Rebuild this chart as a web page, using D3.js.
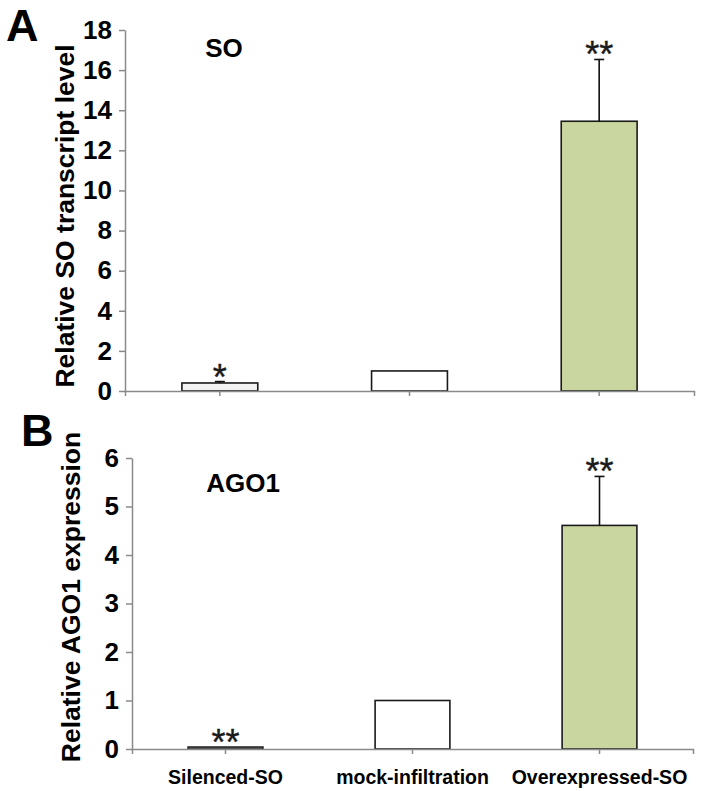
<!DOCTYPE html>
<html>
<head>
<meta charset="utf-8">
<script src="https://cdn.jsdelivr.net/npm/d3@7"></script>
<style>
  html, body { margin: 0; padding: 0; background: #fff; }
  svg { display: block; }
  text { font-family: "Liberation Sans", Arial, sans-serif; }
</style>
</head>
<body>
<svg id="chart" width="702" height="791"></svg>
<script>
// ---- data ----
const categories = ["Silenced-SO", "mock-infiltration", "Overexpressed-SO"];
const soValues = [0.40, 1.00, 13.45];
const soErrors = [0.07, 0, 3.08];
const soStars = ["*", "", "**"];
const soTicks = [0, 2, 4, 6, 8, 10, 12, 14, 16, 18];
const ago1Values = [0.04, 1.00, 4.61];
const ago1Errors = [0, 0, 1.01];
const ago1Stars = ["**", "", "**"];
const ago1Ticks = [0, 1, 2, 3, 4, 5, 6];
const barFills = ["#f2f2f2", "#ffffff", "#c9d69f"];

const svg = d3.select("#chart");

function panel(cfg) {
  const x = d3.scaleBand().domain(categories).range([cfg.x0, cfg.x1]).paddingInner(0.6).paddingOuter(0.3);
  const y = d3.scaleLinear().domain([0, cfg.max]).range([cfg.yb, cfg.yt]);
  const g = svg.append("g");

  // y axis
  const ya = g.append("g").attr("transform", `translate(${cfg.x0},0)`)
    .call(d3.axisLeft(y).tickValues(cfg.ticks).tickFormat(d3.format("d"))
      .tickSize(6).tickSizeOuter(0).tickPadding(7));
  ya.select(".domain").attr("stroke", "#8a8a8a").attr("stroke-width", 1.5);
  ya.selectAll(".tick line").attr("stroke", "#8a8a8a").attr("stroke-width", 1.5);
  ya.selectAll(".tick text").attr("font-size", 26).attr("font-weight", "bold")
    .attr("fill", "#000").attr("font-family", "Liberation Sans, Arial, sans-serif");

  // bars
  g.selectAll("rect.bar").data(cfg.values).enter().append("rect")
    .attr("x", (d, i) => x(categories[i]))
    .attr("width", x.bandwidth())
    .attr("y", d => y(d))
    .attr("height", d => y(0) - y(d))
    .attr("fill", (d, i) => barFills[i])
    .attr("stroke", "#1a1a1a").attr("stroke-width", 1.6);

  // error bars
  cfg.values.forEach((v, i) => {
    const e = cfg.errors[i];
    if (e <= 0) return;
    const cx = x(categories[i]) + x.bandwidth() / 2;
    g.append("line").attr("x1", cx).attr("x2", cx).attr("y1", y(v)).attr("y2", y(v + e))
      .attr("stroke", "#111").attr("stroke-width", 1.6);
    g.append("line").attr("x1", cx - 5).attr("x2", cx + 5).attr("y1", y(v + e)).attr("y2", y(v + e))
      .attr("stroke", "#111").attr("stroke-width", 1.6);
  });

  // stars
  cfg.stars.forEach((s, i) => {
    if (!s) return;
    const cx = x(categories[i]) + x.bandwidth() / 2;
    g.append("text").attr("x", cx).attr("y", y(cfg.values[i] + cfg.errors[i]) + 8)
      .attr("text-anchor", "middle").attr("font-family", "Liberation Serif, Times New Roman, serif")
      .attr("font-size", 36).attr("fill", "#1a1a1a").attr("stroke", "#1a1a1a").attr("stroke-width", 0.4)
      .text(s);
  });

  // x axis
  const xa = g.append("g").attr("transform", `translate(0,${cfg.yb})`)
    .call(d3.axisBottom(x).tickSize(5).tickSizeOuter(5).tickFormat(cfg.showLabels ? (d => d) : ""));
  xa.select(".domain").attr("stroke", "#8a8a8a").attr("stroke-width", 1.5);
  xa.selectAll(".tick line").attr("stroke", "#8a8a8a").attr("stroke-width", 1.5);
  xa.selectAll(".tick text").attr("font-size", 19.5).attr("font-weight", "bold")
    .attr("fill", "#000").attr("font-family", "Liberation Sans, Arial, sans-serif")
    .attr("dy", "1.4em");

  // y title
  g.append("text").attr("transform", `translate(${cfg.titleX},${cfg.titleY}) rotate(-90)`)
    .attr("text-anchor", "middle").attr("font-size", 26.5).attr("font-weight", "bold").text(cfg.yTitle);

  // inner label
  g.append("text").attr("x", cfg.labelX).attr("y", cfg.labelY).attr("text-anchor", "middle")
    .attr("font-size", 26).attr("font-weight", "bold").text(cfg.label);

  // panel letter
  g.append("text").attr("x", cfg.letterX).attr("y", cfg.letterY)
    .attr("font-size", 45).attr("font-weight", "bold").text(cfg.letter);
}

panel({
  x0: 125, x1: 694, yt: 30, yb: 391, max: 18, ticks: soTicks,
  values: soValues, errors: soErrors, stars: soStars, showLabels: false,
  yTitle: "Relative SO transcript level", titleX: 74, titleY: 216,
  label: "SO", labelX: 224, labelY: 57, letter: "A", letterX: 6, letterY: 41
});

panel({
  x0: 132, x1: 693, yt: 458, yb: 749, max: 6, ticks: ago1Ticks,
  values: ago1Values, errors: ago1Errors, stars: ago1Stars, showLabels: true,
  yTitle: "Relative AGO1 expression", titleX: 80, titleY: 597,
  label: "AGO1", labelX: 243, labelY: 492, letter: "B", letterX: 21, letterY: 446
});
</script>
</body>
</html>
